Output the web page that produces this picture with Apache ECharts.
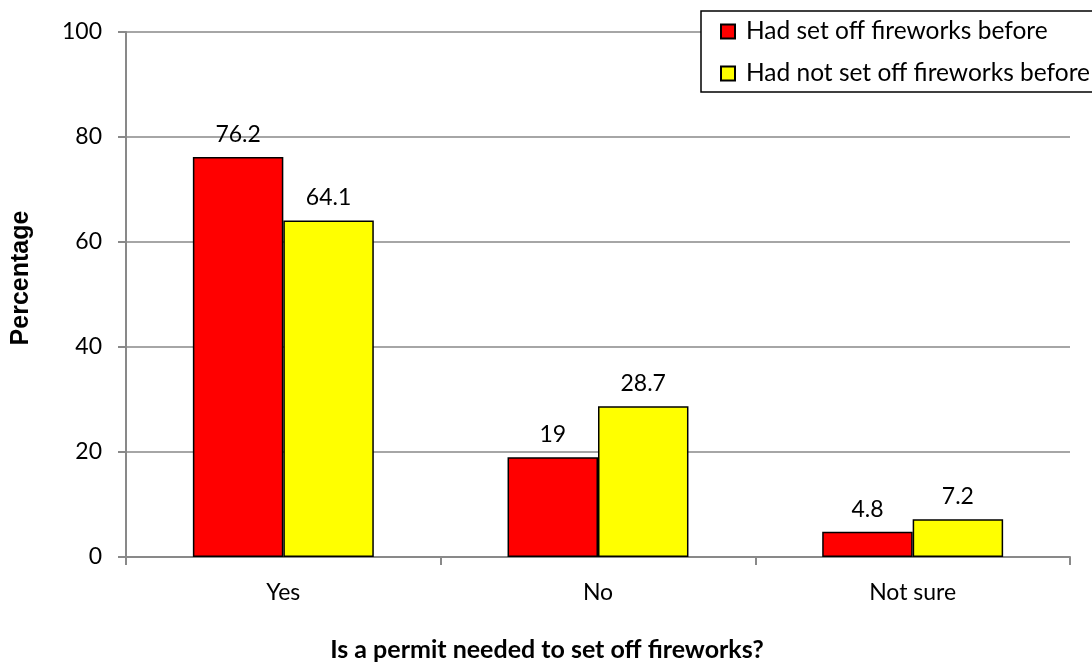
<!DOCTYPE html>
<html>
<head>
<meta charset="utf-8">
<script src="https://cdn.jsdelivr.net/npm/echarts@6/dist/echarts.min.js"></script>
<style>
html,body{margin:0;padding:0;background:#fff;}
#chart{width:1092px;height:667px;}
</style>
</head>
<body>
<div id="chart"></div>
<script>
const categories = ['Yes', 'No', 'Not sure'];
const seriesNames = ['Had set off fireworks before', 'Had not set off fireworks before'];
const hadSetOff = [76.2, 19, 4.8];
const hadNotSetOff = [64.1, 28.7, 7.2];
const yTicks = [0, 20, 40, 60, 80, 100];

const font = 'Lato, "Open Sans", "Noto Sans", sans-serif';
const chart = echarts.init(document.getElementById('chart'), null, {renderer: 'canvas'});
const labelCfg = {show: true, position: 'top', distance: 11, color: '#000', fontSize: 23, fontFamily: font};
chart.setOption({
  animation: false,
  backgroundColor: '#fff',
  grid: {left: 126, right: 22, top: 32, bottom: 110, containLabel: false},
  legend: {
    orient: 'vertical', left: 701, top: 11,
    backgroundColor: '#fff', borderColor: '#000', borderWidth: 1.5,
    padding: [8, 20, 6, 19], itemGap: 17, itemWidth: 14, itemHeight: 14,
    icon: 'rect',
    textStyle: {fontSize: 24.5, fontFamily: font, color: '#000', padding: [0, 0, 0, 6]},
    data: seriesNames
  },
  xAxis: {
    type: 'category', data: categories,
    axisLine: {lineStyle: {color: '#898989', width: 2}},
    axisTick: {show: true, alignWithLabel: false, length: 8, lineStyle: {color: '#898989', width: 2}},
    axisLabel: {fontSize: 23, fontFamily: font, color: '#000', margin: 24},
    name: 'Is a permit needed to set off fireworks?', nameLocation: 'middle', nameGap: 80,
    nameTextStyle: {fontSize: 25, fontWeight: 'bold', fontFamily: font, color: '#000', padding: [0, 102, 0, 0]}
  },
  yAxis: {
    type: 'value', min: 0, max: 100, interval: 20,
    axisLine: {show: true, lineStyle: {color: '#898989', width: 2}},
    axisTick: {show: true, length: 8, lineStyle: {color: '#898989', width: 2}},
    splitLine: {show: true, lineStyle: {color: '#898989', width: 1.5}},
    axisLabel: {fontSize: 23, fontFamily: font, color: '#000', margin: 24,
      formatter: v => yTicks.includes(v) ? String(v) : ''},
    name: 'Percentage', nameLocation: 'middle', nameGap: 92, nameRotate: 90,
    nameTextStyle: {fontSize: 25, fontWeight: 'bold', fontFamily: 'Liberation Sans, Arial, sans-serif', color: '#000', padding: [0, 0, 0, 33]}
  },
  series: [
    {name: seriesNames[0], type: 'bar', data: hadSetOff, barGap: '0%', barCategoryGap: '42.5%',
     itemStyle: {color: '#FF0000', borderColor: '#000', borderWidth: 1.5}, label: labelCfg},
    {name: seriesNames[1], type: 'bar', data: hadNotSetOff, barGap: '0%', barCategoryGap: '42.5%',
     itemStyle: {color: '#FFFF00', borderColor: '#000', borderWidth: 1.5}, label: labelCfg}
  ]
});
</script>
</body>
</html>
